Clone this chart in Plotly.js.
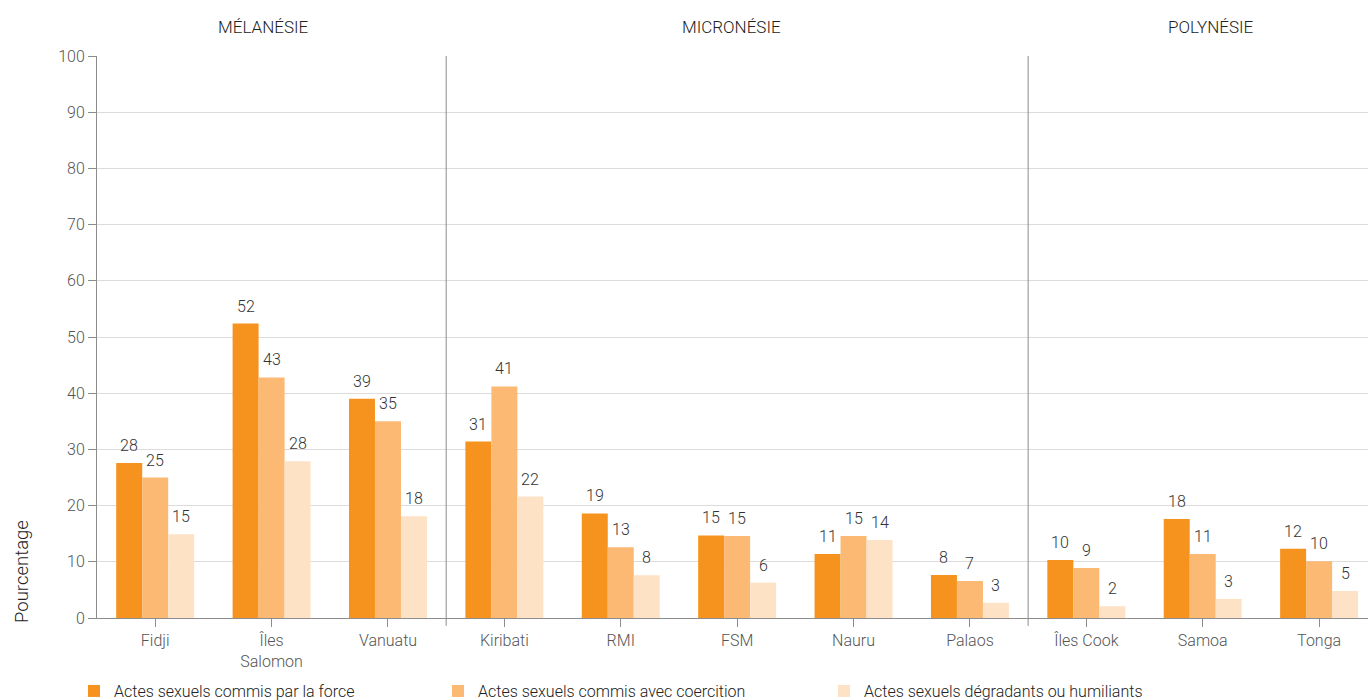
<!DOCTYPE html>
<html><head><meta charset="utf-8">
<script src="https://cdn.plot.ly/plotly-3.0.1.min.js"></script>
<style>html,body{margin:0;padding:0;background:#fff}#chart{width:1368px;height:700px}</style>
</head><body><div id="chart"></div>
<script>
const categories = ["Fidji", "Îles<br>Salomon", "Vanuatu", "Kiribati", "RMI", "FSM", "Nauru", "Palaos", "Îles Cook", "Samoa", "Tonga"];
const seriesNames = ["Actes sexuels commis par la force", "Actes sexuels commis avec coercition", "Actes sexuels dégradants ou humiliants"];
const force = [27.6, 52.4, 39.0, 31.4, 18.6, 14.7, 11.4, 7.65, 10.3, 17.6, 12.3];
const coercion = [25.0, 42.8, 35.0, 41.2, 12.6, 14.6, 14.6, 6.6, 8.9, 11.4, 10.1];
const degrading = [14.9, 27.9, 18.1, 21.6, 7.6, 6.3, 13.9, 2.7, 2.1, 3.4, 4.8];
const regions = ["MÉLANÉSIE", "MICRONÉSIE", "POLYNÉSIE"];
const regionLabelPos = [0.93, 4.95, 9.07];
const separators = [2.5, 7.5];

const colors = ["#F6931E", "#FBB974", "#FEE2C6"];
const FONT = "Roboto, 'Open Sans', sans-serif";
const series = [force, coercion, degrading];
const bargap = 0.33;
const bw = (1 - bargap) / 3;
const legendIds = ["legend", "legend2", "legend3"];
const legendX = [-0.0181, 0.2683, 0.572];

const traces = series.map((vals, k) => ({
  type: "bar",
  name: seriesNames[k],
  x: categories.map((c, i) => i),
  y: vals,
  marker: {color: colors[k]},
  legend: legendIds[k],
  hoverinfo: "y"
}));

const annotations = [];
series.forEach((vals, k) => {
  vals.forEach((v, i) => {
    annotations.push({
      x: i + (k - 1) * bw, y: v, xref: "x", yref: "y",
      text: String(Math.round(v)), showarrow: false,
      yanchor: "bottom", yshift: 6,
      font: {family: FONT, size: 16, color: "#333", weight: 300}
    });
  });
});
regions.forEach((r, j) => {
  annotations.push({
    x: regionLabelPos[j], y: 1.052, xref: "x", yref: "paper",
    text: r, showarrow: false, yanchor: "middle",
    font: {family: FONT, size: 17, color: "#222", weight: 300}
  });
});
annotations.push({
  x: -0.059, y: 8.2, xref: "paper", yref: "y", text: "Pourcentage",
  textangle: -90, showarrow: false, xanchor: "center", yanchor: "middle",
  font: {family: FONT, size: 18.5, color: "#222", weight: 300}
});

const shapes = separators.map(s => ({
  type: "line", xref: "x", yref: "paper", x0: s, x1: s, y0: -0.014, y1: 1,
  line: {color: "#8c8c8c", width: 1}
}));

const legendBase = (x) => ({
  orientation: "h", x: x, xanchor: "left", y: -0.13, yanchor: "middle",
  font: {family: FONT, size: 16, color: "#222", weight: 300},
  bgcolor: "rgba(0,0,0,0)"
});

const layout = {
  width: 1368, height: 700,
  margin: {l: 97, r: 0, t: 56, b: 82, autoexpand: false},
  paper_bgcolor: "#fff", plot_bgcolor: "#fff",
  barmode: "group", bargap: bargap, bargroupgap: 0,
  font: {family: FONT, size: 16, color: "#555", weight: 300},
  xaxis: {
    range: [-0.5, 10.42], tickmode: "array", automargin: false,
    tickvals: categories.map((c, i) => i), ticktext: categories,
    showgrid: false, zeroline: false,
    showline: true, linecolor: "#8c8c8c", linewidth: 1,
    ticks: "outside", ticklen: 8, tickcolor: "#8c8c8c",
    tickfont: {family: FONT, size: 16, color: "#555", weight: 300}
  },
  yaxis: {
    range: [0, 100], dtick: 10, tick0: 0, automargin: false,
    showgrid: true, gridcolor: "#dcdcdc", gridwidth: 1,
    zeroline: false, showline: true, linecolor: "#8c8c8c", linewidth: 1,
    ticks: "outside", ticklen: 8, tickcolor: "#8c8c8c",
    tickfont: {family: FONT, size: 16, color: "#555", weight: 300}
  },
  legend: legendBase(legendX[0]),
  legend2: legendBase(legendX[1]),
  legend3: legendBase(legendX[2]),
  showlegend: true,
  annotations: annotations,
  shapes: shapes
};

Plotly.newPlot("chart", traces, layout, {displayModeBar: false, responsive: false});
</script>
</body></html>
